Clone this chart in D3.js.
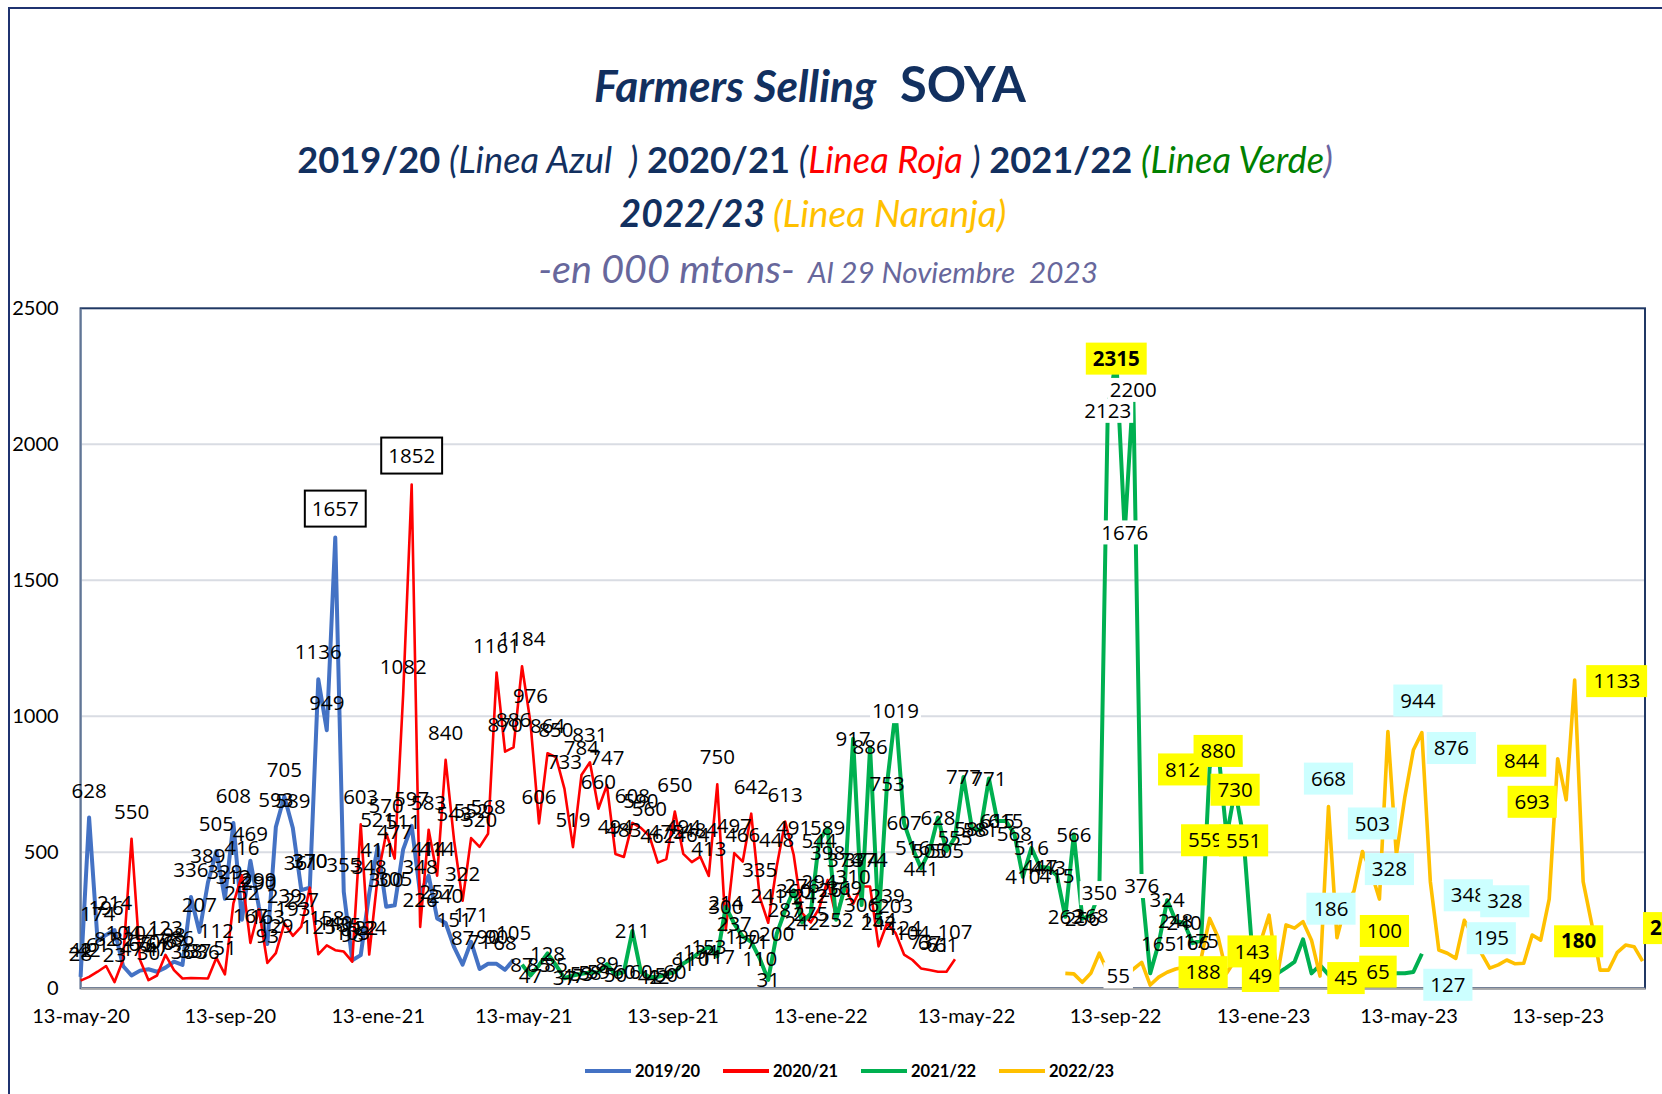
<!DOCTYPE html>
<html>
<head>
<meta charset="utf-8">
<script src="https://cdn.jsdelivr.net/npm/d3@7"></script>
<style>
body{margin:0;background:#fff;}
svg{display:block;}
</style>
</head>
<body>
<script>
// weekly values, one per week from the start date (000 mtons)
var inicioAzul = "2020-05-13";
var serieAzul = [42,628,174,196,214,82,47,65,70,61,76,98,86,336,207,389,505,329,608,252,
  469,299,163,593,705,589,361,370,1136,949,1657,355,103,122,348,521,300,305,511,597,
  348,414,257,240,151,87,171,71,90,90,68,105];

var inicioRoja = "2020-05-13";
var serieRoja = [28,42,61,82,23,104,550,104,30,47, 123,67,36,38,37,36,112,51,312,416,
  167,290,93,129,239,193,227,370,125,158, 140,135,98,603,124,411,570,477,1082,1852,
  226,583,414,840,543,322,552,520,568,1161, 870,886,1184,976,606,864,850,733,519,784,
  831,660,747,494,483,608,590,560,462,475, 650,494,464,484,413,750,214,497,466,642,
  335,241,448,613,491,276,242,294,398,261, 374,310,374,374,154,239,203,124,104,73,
  67,61,61,107];

var inicioVerde = "2021-05-12";
var serieVerde = [87,47,85,128,85,37,47,53,58,59, 89,50,60,211,60,42,42,50,60,91,
  110,134,153,117,300,237,190,171,110,31, 200,287,360,242,275,544,589,252,369,917,
  306,886,242,753,1019,607,516,441,505,628, 505,555,777,588,581,771,615,615,568,410,
  516,447,443,415,263,566,256,268,350,2123, 2315,1676,2200,376,55,165,324,248,240,166,
  175,812,880,559,730,551,143,49,55,55, 75,97,180,55,85,50,45,55,65,60,
  55,55,48,55,55,60,127];

var inicioNaranja = "2022-08-03";
var serieNaranja = [55,53,22,55,129,60,55,40,70,95, 12,41,59,71,77,92,110,257,188,55,
  104,143,120,170,269,49,233,221,245,177, 45,668,186,307,357,503,430,328,944,490,
  704,876,940,392,141,129,110,250,195,129, 74,86,104,90,92,196,177,328,844,693,
  1133,392,239,67,67,131,159,153,100];

var nombresSerie = ["2019/20","2020/21","2021/22","2022/23"];
var yTicks = [0,500,1000,1500,2000,2500];
var xTicks = ["2020-05-13","2020-09-13","2021-01-13","2021-05-13","2021-09-13","2022-01-13",
  "2022-05-13","2022-09-13","2023-01-13","2023-05-13","2023-09-13"];
var meses = ["ene","feb","mar","abr","may","jun","jul","ago","sep","oct","nov","dic"];

// boxed labels: series, week index in that series, text
var etiquetasCaja = [
  {s:0, i:30, t:"1657", tipo:"caja", dx:0, dy:-29},
  {s:1, i:39, t:"1852", tipo:"caja", dx:0, dy:-29},
  {s:2, i:70, t:"2315", tipo:"amarilla", b:true, dx:0, dy:0},
  {s:2, i:74, t:"55", tipo:"blanca", dx:-32, dy:2},
  {s:2, i:81, t:"812", tipo:"amarilla", dx:-27, dy:2},
  {s:2, i:82, t:"880", tipo:"amarilla", dx:0, dy:2},
  {s:2, i:83, t:"559", tipo:"amarilla", dx:-21, dy:4},
  {s:2, i:85, t:"551", tipo:"amarilla", dx:0, dy:2},
  {s:2, i:84, t:"730", tipo:"amarilla", dx:0, dy:0},
  {s:2, i:86, t:"143", tipo:"amarilla", dx:0, dy:2},
  {s:2, i:87, t:"49", tipo:"amarilla", dx:0, dy:1},
  {s:3, i:18, t:"188", tipo:"amarilla", dx:-15, dy:35},
  {s:3, i:30, t:"45", tipo:"amarilla", dx:26, dy:2},
  {s:2, i:98, t:"65", tipo:"amarilla", dx:24, dy:1},
  {s:2, i:99, t:"100", tipo:"amarilla", dx:22, dy:-41},
  {s:2, i:106, t:"127", tipo:"celeste", dx:26, dy:31},
  {s:3, i:31, t:"668", tipo:"celeste", dx:0, dy:-28},
  {s:3, i:32, t:"186", tipo:"celeste", dx:-6, dy:-29},
  {s:3, i:35, t:"503", tipo:"celeste", dx:10, dy:-28},
  {s:3, i:37, t:"328", tipo:"celeste", dx:10, dy:-30},
  {s:3, i:38, t:"944", tipo:"celeste", dx:30, dy:-31},
  {s:3, i:41, t:"876", tipo:"celeste", dx:38, dy:-2},
  {s:3, i:47, t:"348", tipo:"celeste", dx:4, dy:-25},
  {s:3, i:48, t:"328", tipo:"celeste", dx:32, dy:-34},
  {s:3, i:49, t:"195", tipo:"celeste", dx:10, dy:-15},
  {s:3, i:58, t:"844", tipo:"amarilla", dx:-36, dy:2},
  {s:3, i:59, t:"693", tipo:"amarilla", dx:-34, dy:2},
  {s:3, i:60, t:"1133", tipo:"amarilla", dx:42, dy:1},
  {s:3, i:62, t:"180", tipo:"amarilla", b:true, dx:-13, dy:18},
  {s:3, i:68, t:"213", tipo:"amarilla", b:true, dx:25, dy:-33}
];
var ultimaEtiquetaVerde = 80;
// green labels drawn on a white patch
var verdeFondoBlanco = [44, 68, 69, 71, 72, 73];

var width = 1662, height = 1094;
var navy = "#12305f";
var parseDate = d3.timeParse("%Y-%m-%d");

var svg = d3.select("body").append("svg")
  .attr("width", width)
  .attr("height", height);

// outer frame of the chart
svg.append("rect").attr("x", 9).attr("y", 8).attr("width", 1700).attr("height", 1150)
  .attr("fill", "none").attr("stroke", "#1f3370").attr("stroke-width", 2);

var x = d3.scaleTime()
  .domain([parseDate("2020-05-13"), parseDate("2023-11-24")])
  .range([80.6, 1645]);
var y = d3.scaleLinear().domain([0, 2500]).range([988.3, 308.3]);

// titles, each line fitted to its width
function linea(partes, cx, base, ancho) {
  var t = svg.append("text")
    .attr("x", cx).attr("y", base)
    .attr("text-anchor", "middle")
    .style("white-space", "pre")
    .style("font-family", "Lato, sans-serif");
  partes.forEach(function(p) {
    t.append("tspan").text(p.t)
      .attr("font-size", p.size)
      .attr("font-weight", p.w || 400)
      .attr("font-style", p.st || "normal")
      .attr("fill", p.c);
  });
  var f = ancho / t.node().getComputedTextLength();
  t.selectAll("tspan").attr("font-size", function(d, i) { return partes[i].size * f; });
}

linea([{t:"Farmers Selling", size:39, w:700, st:"italic", c:navy},
       {t:"  SOYA", size:43, w:700, c:navy}], 810, 102, 432);
linea([{t:"2019/20 ", size:35, w:700, c:navy},
       {t:"(Linea Azul  ) ", size:35, st:"italic", c:navy},
       {t:"2020/21 ", size:35, w:700, c:navy},
       {t:"(", size:35, st:"italic", c:navy},
       {t:"Linea Roja ", size:35, st:"italic", c:"#ff0000"},
       {t:") ", size:35, st:"italic", c:navy},
       {t:"2021/22 ", size:35, w:700, c:navy},
       {t:"(Linea Verde", size:35, st:"italic", c:"#008000"},
       {t:")", size:35, st:"italic", c:"#6a64a0"}], 815, 173, 1036);
linea([{t:"2022/23 ", size:35, w:700, st:"italic", c:navy},
       {t:"(Linea Naranja)", size:35, st:"italic", c:"#ffc000"}], 813, 227, 387);
linea([{t:"-en 000 mtons-", size:36, st:"italic", c:"#67679c"},
       {t:"  Al 29 Noviembre  2023", size:27, st:"italic", c:"#67679c"}], 818, 283, 560);

// grid
svg.append("g").selectAll("line")
  .data(yTicks.filter(function(d) { return d > 0 && d < 2500; }))
  .enter().append("line")
  .attr("x1", x.range()[0]).attr("x2", x.range()[1])
  .attr("y1", function(d) { return y(d); }).attr("y2", function(d) { return y(d); })
  .attr("stroke", "#d9dce3").attr("stroke-width", 2);

// plot area border
svg.append("rect")
  .attr("x", x.range()[0]).attr("y", y(2500))
  .attr("width", x.range()[1] - x.range()[0]).attr("height", y(0) - y(2500))
  .attr("fill", "none").attr("stroke", "#203864").attr("stroke-width", 2);

var yAxis = svg.append("g")
  .attr("transform", "translate(" + x.range()[0] + ",0)")
  .call(d3.axisLeft(y).tickValues(yTicks).tickSize(0).tickPadding(22).tickFormat(d3.format("d")));
yAxis.select(".domain").attr("stroke", "#8497b0").attr("stroke-width", 1.5);
yAxis.selectAll("text").style("font-family", "Lato, sans-serif").style("font-size", "20px").attr("fill", "#000");

var xAxis = svg.append("g")
  .attr("transform", "translate(0," + y(0) + ")")
  .call(d3.axisBottom(x).tickValues(xTicks.map(parseDate)).tickSize(0).tickPadding(21)
    .tickFormat(function(d) { return d.getDate() + "-" + meses[d.getMonth()] + "-" + String(d.getFullYear()).slice(2); }));
xAxis.select(".domain").attr("stroke", "#a6a6a6").attr("stroke-width", 2);
xAxis.selectAll("text").style("font-family", "Lato, sans-serif").style("font-size", "20px").attr("fill", "#000");

// series
var series = [
  {start:inicioAzul, values:serieAzul, color:"#4472c4", w:4},
  {start:inicioRoja, values:serieRoja, color:"#ff0000", w:2.6},
  {start:inicioVerde, values:serieVerde, color:"#00b050", w:4},
  {start:inicioNaranja, values:serieNaranja, color:"#ffc000", w:3.6}
];
series.forEach(function(s, k) {
  var s0 = parseDate(s.start);
  s.name = nombresSerie[k];
  s.points = s.values.map(function(v, i) { return {date: d3.timeDay.offset(s0, 7 * i), v: v, i: i}; });
});

var line = d3.line()
  .defined(function(d) { return d.v != null; })
  .x(function(d) { return x(d.date); })
  .y(function(d) { return y(d.v); });

svg.append("g").selectAll("path")
  .data(series)
  .enter().append("path")
  .attr("d", function(d) { return line(d.points); })
  .attr("fill", "none")
  .attr("stroke", function(d) { return d.color; })
  .attr("stroke-width", function(d) { return d.w; })
  .attr("stroke-linejoin", "round");

// plain data labels
function conCaja(s, i) {
  return etiquetasCaja.some(function(e) { return e.s == s && e.i == i; });
}
var fontLabel = "'Open Sans', sans-serif";
var sizeLabel = "20.5px";

[0, 1].forEach(function(k) {
  svg.append("g").selectAll("text")
    .data(series[k].points.filter(function(d) { return !conCaja(k, d.i); }))
    .enter().append("text")
    .attr("x", function(d) { return x(d.date); })
    .attr("y", function(d) { return y(d.v) - 27; })
    .attr("dy", "0.35em")
    .attr("text-anchor", "middle")
    .style("font-family", fontLabel).style("font-size", sizeLabel)
    .text(function(d) { return d.v; });
});

var verdeLab = svg.append("g").selectAll("g")
  .data(series[2].points.filter(function(d) { return d.i <= ultimaEtiquetaVerde && !conCaja(2, d.i); }))
  .enter().append("g")
  .attr("transform", function(d) { return "translate(" + x(d.date) + "," + y(d.v) + ")"; });
verdeLab.filter(function(d) { return verdeFondoBlanco.indexOf(d.i) >= 0; })
  .append("rect").attr("fill", "#fff");
verdeLab.append("text")
  .attr("dy", "0.35em").attr("text-anchor", "middle")
  .style("font-family", fontLabel).style("font-size", sizeLabel)
  .text(function(d) { return d.v; });
verdeLab.each(function() {
  var g = d3.select(this);
  var w = g.select("text").node().getComputedTextLength();
  g.select("rect").attr("x", -w / 2 - 2).attr("y", -12).attr("width", w + 4).attr("height", 24);
});

// boxed labels
var fills = {caja:"#fff", amarilla:"#ffff00", celeste:"#ccffff", blanca:"#fff"};
var cajas = svg.append("g").selectAll("g")
  .data(etiquetasCaja)
  .enter().append("g")
  .attr("transform", function(d) {
    var p = series[d.s].points[d.i];
    return "translate(" + (x(p.date) + d.dx) + "," + (y(p.v) + d.dy) + ")";
  });
cajas.append("rect");
cajas.append("text")
  .attr("dy", "0.35em").attr("text-anchor", "middle")
  .style("font-family", fontLabel).style("font-size", sizeLabel)
  .style("font-weight", function(d) { return d.b ? 700 : 400; })
  .text(function(d) { return d.t; });
cajas.each(function(d) {
  var g = d3.select(this);
  var w = g.select("text").node().getComputedTextLength();
  var padX = d.tipo == "blanca" ? 3 : 7;
  var h = d.tipo == "caja" ? 36 : (d.tipo == "blanca" ? 26 : 32);
  g.select("rect")
    .attr("x", -w / 2 - padX).attr("y", -h / 2)
    .attr("width", w + 2 * padX).attr("height", h)
    .attr("fill", fills[d.tipo])
    .attr("stroke", d.tipo == "caja" ? "#000" : "none")
    .attr("stroke-width", 2);
});

// legend
var legend = svg.append("g").selectAll("g")
  .data(series)
  .enter().append("g")
  .attr("transform", function(d, i) { return "translate(" + (585 + i * 138) + ",1071)"; });
legend.append("line")
  .attr("x1", 0).attr("x2", 46)
  .attr("stroke", function(d) { return d.color; })
  .attr("stroke-width", 4);
legend.append("text")
  .attr("x", 50).attr("dy", "0.35em")
  .style("font-family", "Lato, sans-serif").style("font-size", "16.5px").style("font-weight", 700)
  .text(function(d) { return d.name; });
</script>
</body>
</html>
